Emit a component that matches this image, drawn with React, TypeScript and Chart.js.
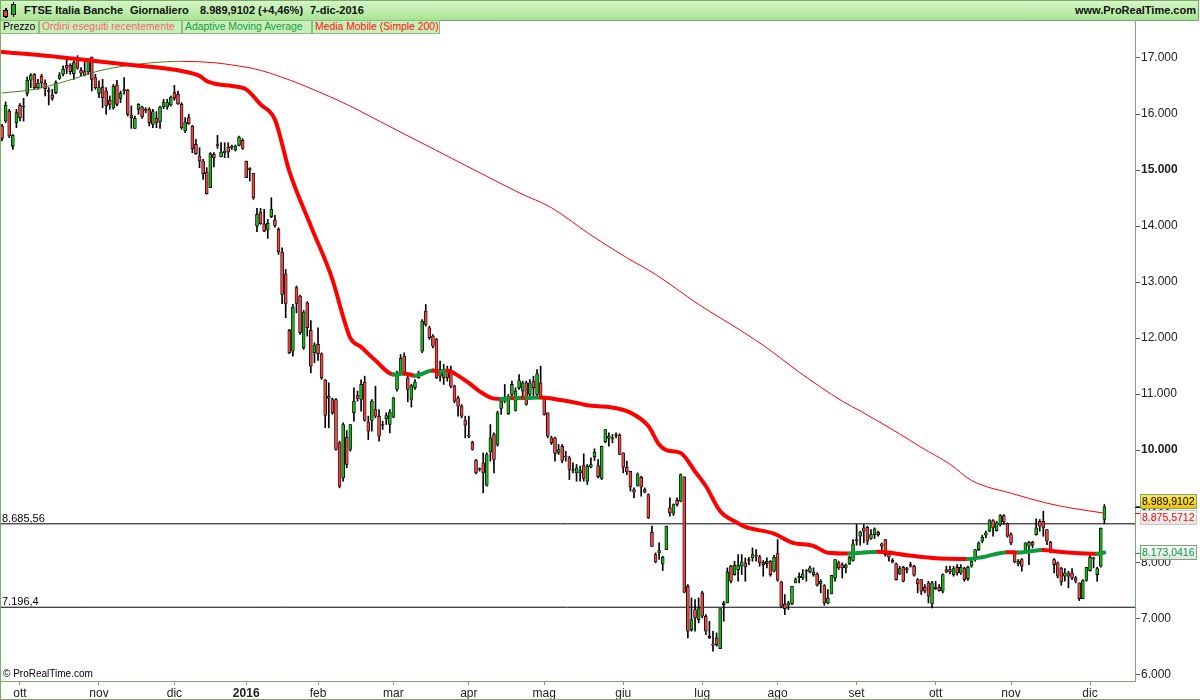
import React, { useEffect, useRef } from "react";
import { Chart, registerables } from "chart.js";

Chart.register(...registerables);

const FONT = '"Liberation Sans", Arial, Helvetica, sans-serif';

// ---- Daily candles (index 0 = 24-set-2015 ... 307 = 7-dic-2016) ----
const opens = [
  15786, 15875, 16054, 15423, 15846, 16155, 16131, 16369, 16602, 16709,
  16471, 16679, 16548, 16417, 16340, 16381, 16637, 16709, 16869, 16869,
  16721, 17006, 16780, 16756, 16750, 17018, 16649, 16369, 16483, 16411,
  16244, 16114, 16518, 16280, 16429, 16423, 15983, 15744, 16084, 16125,
  16084, 16084, 15816, 15923, 15858, 16125, 16125, 16161, 16381, 16352,
  16173, 15697, 15935, 15786, 15459, 15250, 15161, 14965, 14685, 15280,
  15447, 15238, 15304, 15411, 15417, 15357, 15441, 15530, 15161, 15018,
  14941, 14000, 14250, 14042, 13940, 14167, 14107, 13940, 13536, 13149,
  12137, 11768, 12900, 12750, 11827, 12631, 12137, 11738, 11887, 11720,
  11250, 10923, 10905, 10905, 10131, 9506, 10232, 10012, 10667, 10976,
  10905, 11214, 10506, 10530, 10726, 10607, 10452, 10560, 10458, 10589,
  11083, 11381, 11679, 11292, 10905, 11113, 11292, 11768, 12482, 12185,
  12036, 11976, 11440, 11292, 11423, 11423, 11143, 10935, 10786, 10530,
  10256, 10143, 9821, 9670, 9774, 9375, 9970, 10280, 10101, 10744,
  10875, 10649, 10994, 10708, 11113, 11054, 11202, 10994, 11232, 10994,
  11202, 10946, 10667, 10220, 10220, 9952, 10071, 9893, 9863, 9649,
  9595, 9595, 9726, 9446, 9702, 9881, 9726, 9494, 10149, 10208,
  10208, 10262, 10268, 9952, 9696, 9625, 9298, 9369, 9518, 9298,
  9208, 8536, 8137, 8167, 7970, 8226, 8970, 8869, 9107, 9089,
  9524, 7571, 6798, 7155, 6976, 7452, 7036, 6679, 6530, 6649,
  6458, 7244, 7274, 7929, 7780, 7869, 7929, 7988, 8036, 8077,
  8110, 8095, 8000, 7976, 8018, 7839, 8155, 7649, 7256, 7232,
  7256, 7631, 7720, 7720, 7845, 7827, 7821, 7792, 7613, 7583,
  7274, 7435, 7720, 7988, 7958, 7899, 7970, 8030, 8390, 8464,
  8613, 8625, 8423, 8494, 8536, 8327, 8405, 8137, 8036, 7970,
  7792, 7911, 7875, 7958, 7929, 7690, 7690, 7554, 7631, 7256,
  7554, 7554, 7482, 7869, 7869, 7780, 7911, 7810, 7887, 7708,
  7929, 8077, 8226, 8375, 8482, 8554, 8744, 8565, 8673, 8833,
  8685, 8494, 8167, 7970, 8048, 8196, 8286, 8357, 8494, 8732,
  8732, 8583, 8357, 8048, 7988, 7887, 7750, 7810, 7810, 7720,
  7631, 7351, 7673, 7851, 8065, 7780, 7929, 8762,
];
const highs = [
  15816, 16215, 16084, 15637, 16084, 16185, 16280, 16661, 16721, 16721,
  16619, 16709, 16608, 16471, 16441, 16590, 16739, 16858, 17018, 16899,
  16947, 17042, 16828, 16947, 16977, 17018, 16709, 16590, 16619, 16471,
  16322, 16530, 16602, 16411, 16649, 16441, 16143, 15965, 16185, 16143,
  16114, 16114, 16084, 16042, 16143, 16262, 16262, 16322, 16512, 16411,
  16203, 15935, 15994, 15798, 15548, 15399, 15191, 15042, 15310, 15310,
  15619, 15488, 15488, 15488, 15447, 15447, 15608, 15560, 15161, 15042,
  14941, 14315, 14315, 14298, 14119, 14506, 14190, 13970, 13613, 13226,
  12155, 12601, 12930, 12768, 12494, 12649, 12315, 11917, 12185, 11738,
  11262, 11202, 10930, 10920, 10161, 10488, 10351, 10460, 11113, 11054,
  11256, 11321, 10607, 10905, 11143, 10726, 10518, 10667, 10726, 10946,
  11411, 11708, 11738, 11321, 11173, 11262, 11411, 12333, 12601, 12214,
  12065, 11994, 11589, 11530, 11500, 11500, 11161, 10964, 10815, 10607,
  10607, 10160, 9833, 9685, 9952, 9952, 10458, 10310, 10696, 10935,
  11173, 10994, 11232, 11113, 11351, 11232, 11232, 11262, 11321, 11440,
  11500, 10964, 10667, 10250, 10232, 10101, 10101, 9982, 9893, 9774,
  9744, 9714, 9935, 9744, 9863, 10024, 9833, 10071, 10369, 10310,
  10280, 10310, 10292, 9952, 9804, 9625, 9327, 9595, 9536, 9327,
  9220, 8643, 8167, 8345, 8107, 8643, 9149, 9042, 9149, 9577,
  9524, 7601, 7363, 7333, 7363, 7482, 7065, 6946, 6768, 6738,
  7173, 7304, 7899, 7946, 8018, 8137, 8137, 8077, 8089, 8256,
  8226, 8125, 8030, 8077, 8030, 8125, 8405, 7661, 7423, 7304,
  7571, 7720, 7810, 7869, 7869, 7929, 7899, 7810, 7690, 7601,
  7512, 7768, 8048, 8018, 7988, 7970, 8107, 8405, 8673, 8554,
  8673, 8643, 8583, 8613, 8554, 8345, 8405, 8167, 8065, 7988,
  7929, 7929, 7911, 8000, 7946, 7708, 7690, 7601, 7661, 7661,
  7661, 7601, 7792, 7929, 7929, 7929, 7958, 7958, 7911, 7929,
  8048, 8226, 8363, 8482, 8554, 8762, 8762, 8732, 8851, 8851,
  8702, 8524, 8196, 8048, 8065, 8345, 8375, 8375, 8774, 8762,
  8911, 8583, 8375, 8065, 8006, 7911, 7887, 7839, 7887, 7750,
  7631, 7690, 7911, 8125, 8089, 7911, 8613, 9030,
];
const lows = [
  15518, 15846, 15578, 15369, 15756, 15875, 15875, 16322, 16471, 16441,
  16441, 16471, 16322, 16161, 16244, 16363, 16619, 16679, 16721, 16709,
  16619, 16798, 16679, 16679, 16709, 16411, 16441, 16292, 16114, 15994,
  16084, 16084, 16143, 16203, 16352, 15965, 15744, 15744, 15994, 15923,
  16024, 15786, 15756, 15756, 15744, 16096, 16084, 16143, 16244, 16173,
  15727, 15667, 15816, 15310, 15280, 15042, 14834, 14570, 14685, 15054,
  15387, 15232, 15221, 15221, 15369, 15339, 15429, 15369, 14863, 14804,
  14476, 13899, 14030, 13899, 13780, 14149, 13982, 13494, 12613, 12363,
  11720, 11679, 12452, 12065, 11798, 12036, 11381, 11560, 11601, 11262,
  10399, 10399, 10640, 10000, 9327, 9446, 9685, 9982, 10518, 10875,
  10696, 10518, 10190, 10339, 10577, 10161, 10369, 10458, 10310, 10577,
  11054, 11351, 11339, 10863, 10768, 11083, 11280, 11738, 12214, 11976,
  11827, 11280, 11232, 11173, 11232, 11113, 10845, 10607, 10577, 10220,
  10220, 10000, 9577, 9625, 9238, 9357, 9804, 9595, 10071, 10637,
  10845, 10637, 10964, 10696, 11083, 10964, 10804, 10964, 10964, 10964,
  10935, 10625, 10220, 10101, 9804, 9923, 9774, 9804, 9476, 9595,
  9446, 9446, 9446, 9387, 9685, 9815, 9506, 9476, 10131, 10071,
  10131, 10220, 9923, 9595, 9565, 9268, 9149, 9357, 9179, 9238,
  8780, 8280, 7988, 8048, 7851, 8226, 8821, 8833, 9000, 9077,
  7452, 6649, 6768, 6768, 6917, 7006, 6708, 6637, 6411, 6500,
  6458, 6946, 7274, 7631, 7768, 7661, 7780, 7661, 7958, 8018,
  8018, 7929, 7750, 7899, 7750, 7827, 7661, 7185, 7065, 7155,
  7244, 7631, 7631, 7690, 7661, 7810, 7750, 7571, 7452, 7232,
  7256, 7435, 7661, 7869, 7720, 7810, 7958, 8018, 8304, 8304,
  8345, 8315, 8405, 8423, 8464, 8226, 8107, 8018, 7988, 7679,
  7780, 7649, 7810, 7911, 7750, 7452, 7423, 7452, 7274, 7185,
  7512, 7482, 7452, 7810, 7792, 7750, 7768, 7780, 7661, 7673,
  7911, 8018, 8208, 8345, 8435, 8542, 8464, 8554, 8643, 8673,
  8446, 8315, 7988, 7935, 7839, 8185, 7958, 8256, 8482, 8554,
  8464, 8315, 8167, 7810, 7720, 7589, 7661, 7542, 7690, 7631,
  7315, 7351, 7661, 7839, 7899, 7661, 7911, 8685,
];
const closes = [
  15566, 16155, 15608, 15619, 16024, 15935, 16125, 16602, 16697, 16471,
  16554, 16560, 16453, 16405, 16280, 16560, 16697, 16798, 16816, 16756,
  16917, 16816, 16727, 16697, 16935, 16619, 16471, 16471, 16292, 16143,
  16173, 16500, 16173, 16369, 16417, 15994, 15935, 15923, 16173, 15947,
  16066, 15846, 16042, 15846, 16125, 16215, 16203, 16304, 16280, 16185,
  15756, 15858, 15828, 15381, 15292, 15161, 14935, 14578, 15292, 15221,
  15435, 15322, 15339, 15322, 15405, 15429, 15590, 15387, 14863, 15006,
  14506, 14208, 14042, 13911, 14048, 14298, 14012, 13542, 12780, 12619,
  11738, 12554, 12620, 12095, 12464, 12185, 11500, 11875, 11720, 11292,
  10619, 10964, 10667, 10012, 9357, 10458, 9744, 10458, 10875, 10923,
  11173, 10530, 10339, 10875, 10607, 10250, 10440, 10619, 10679, 10935,
  11381, 11637, 11351, 11083, 11155, 11214, 11381, 12304, 12244, 12006,
  11857, 11292, 11321, 11440, 11292, 11143, 10875, 10786, 10607, 10446,
  10250, 10012, 9595, 9660, 9595, 9923, 10220, 9833, 10667, 10875,
  10935, 10964, 11173, 11054, 11244, 11202, 10815, 11202, 11113, 11363,
  10964, 10637, 10250, 10131, 9940, 10012, 9815, 9881, 9655, 9637,
  9685, 9637, 9494, 9714, 9744, 9964, 9524, 10071, 10369, 10250,
  10202, 10280, 9923, 9696, 9613, 9345, 9256, 9577, 9339, 9256,
  8792, 8280, 8006, 8208, 8089, 8643, 8881, 9030, 9030, 9565,
  7464, 6768, 6976, 7006, 7185, 7036, 6768, 6649, 6520, 6530,
  7173, 7274, 7827, 7661, 7946, 7946, 8006, 7917, 8030, 8137,
  8107, 7988, 7958, 8018, 7780, 8089, 7679, 7214, 7173, 7274,
  7571, 7690, 7750, 7792, 7839, 7899, 7780, 7589, 7661, 7274,
  7363, 7768, 8048, 7899, 7899, 7946, 8089, 8327, 8385, 8542,
  8554, 8375, 8494, 8595, 8494, 8286, 8137, 8089, 8000, 7690,
  7887, 7661, 7869, 7929, 7768, 7613, 7482, 7482, 7393, 7631,
  7530, 7494, 7780, 7827, 7827, 7887, 7810, 7911, 7690, 7911,
  8018, 8226, 8345, 8446, 8524, 8744, 8613, 8702, 8833, 8720,
  8464, 8345, 8006, 8018, 7929, 8345, 8357, 8304, 8613, 8643,
  8613, 8375, 8226, 7958, 7750, 7649, 7810, 7750, 7720, 7661,
  7351, 7673, 7911, 8089, 8060, 7887, 8606, 8990,
];

// ---- Month ticks (candle index of the first session of each month) ----
const monthTickIndex = [5, 27, 48, 68, 88, 109, 130, 151, 173, 195, 216, 238, 260, 281, 303];
const monthTickLabels = ["ott", "nov", "dic", "2016", "feb", "mar", "apr", "mag", "giu", "lug", "ago", "set", "ott", "nov", "dic"];
const boldMonthLabels = ["2016"];

// ---- Price axis ticks ----
const priceTicks = [6000, 7000, 8000, 9000, 10000, 11000, 12000, 13000, 14000, 15000, 16000, 17000];
const boldPriceTicks = [10000, 15000];

// ---- Adaptive Moving Average (read at these candle indices) ----
const amaIndex = [0, 13, 26, 36, 50, 55, 57, 60, 64, 68, 72, 76, 80, 86, 92, 95, 97, 100, 104, 109,
  112, 115, 120, 122, 124, 126, 130, 133, 137, 139, 142, 143, 145, 146, 150, 156, 161, 163, 169, 175,
  180, 183, 185, 189, 193, 196, 200, 204, 207, 215, 220, 226, 230, 236, 240, 244, 252, 259, 269, 273,
  280, 283, 290, 293, 298, 305, 307];
const amaValues = [17107, 17036, 16946, 16875, 16768, 16680, 16590, 16530, 16500, 16440, 16170, 15900, 14980, 14000, 13050, 12380, 12000, 11840, 11600, 11350,
  11370, 11330, 11420, 11400, 11420, 11370, 11200, 11050, 10920, 10915, 10930, 10925, 10935, 10930, 10940, 10890, 10830, 10800, 10770, 10670,
  10430, 10100, 10000, 9950, 9620, 9360, 8910, 8730, 8630, 8510, 8350, 8290, 8170, 8155, 8175, 8185, 8125, 8077, 8058, 8090,
  8180, 8175, 8220, 8196, 8167, 8149, 8173];

// ---- Media Mobile Semplice 200 (read at these candle indices) ----
const smaIndex = [0, 9, 18, 27, 36, 46, 50, 59, 64, 72, 94, 105, 139, 144, 153, 164, 174, 182, 194, 206,
  213, 222, 234, 239, 250, 256, 264, 270, 282, 291, 298, 307];
const smaValues = [16375, 16440, 16590, 16770, 16875, 16934, 16940, 16916, 16875, 16780, 16232, 15875, 14756, 14595, 14327, 13839, 13434, 13137, 12602, 12125,
  11827, 11393, 10875, 10700, 10290, 10050, 9750, 9460, 9214, 9054, 8964, 8876];

// ---- Horizontal levels and last values ----
const levelValues = [8685.56, 7196.4];
const levelLabels = ["8.685,56", "7.196,4"];
const lastClose = 8989.9102;
const lastSma = 8875.5712;
const lastAma = 8173.0416;

// ---- layout constants ----
const X_MIN = -0.57;
const X_MAX = 315.53;
const Y_MIN = 5880;
const Y_MAX = 17428;

const UP = "#19b219";
const DOWN = "#ec4343";
const RED = "#ff0000";
const AMA_GREEN = "#0c9a3c";
const OLIVE = "#4f7d1c";
const FRAME = "#7aa96c";

function fmtIt(v: number, dec: number): string {
  const s = v.toFixed(dec);
  const [intPart, frac] = s.split(".");
  const grouped = intPart.replace(/\B(?=(\d{3})+(?!\d))/g, ".");
  return frac ? grouped + "," + frac : grouped;
}

const overlayPlugin = {
  id: "overlay",
  afterDraw(chart: any) {
    const { ctx, chartArea: a } = chart;
    const y = chart.scales.y;
    ctx.save();
    ctx.strokeStyle = FRAME;
    ctx.lineWidth = 1;
    ctx.beginPath();
    ctx.moveTo(0.5, 0);
    ctx.lineTo(0.5, chart.height);
    ctx.moveTo(0, a.bottom + 0.5);
    ctx.lineTo(a.right + 1, a.bottom + 0.5);
    ctx.moveTo(a.right + 0.5, 0);
    ctx.lineTo(a.right + 0.5, a.bottom + 1);
    ctx.moveTo(0, chart.height - 0.5);
    ctx.lineTo(chart.width, chart.height - 0.5);
    ctx.stroke();

    ctx.fillStyle = "#000";
    ctx.textAlign = "left";
    ctx.textBaseline = "alphabetic";
    ctx.font = `11px ${FONT}`;
    levelValues.forEach((v, k) => {
      ctx.fillText(levelLabels[k], 2, Math.round(y.getPixelForValue(v)) - 2);
    });
    ctx.font = `10px ${FONT}`;
    ctx.fillText("© ProRealTime.com", 3, a.bottom - 4);

    const items = [
      { v: lastClose, text: fmtIt(lastClose, 4), bg: ["#ffe866", "#f0c000"], color: "#000", tick: "#000", border: FRAME },
      { v: lastSma, text: fmtIt(lastSma, 4), bg: ["#ffffff", "#e2e2e2"], color: RED, tick: RED, border: "#c8c8c8" },
      { v: lastAma, text: fmtIt(lastAma, 4), bg: ["#ffffff", "#e2e2e2"], color: "#00a040", tick: "#00a040", border: FRAME },
    ];
    const h = 15;
    const centers = items.map((it) => y.getPixelForValue(it.v));
    for (let k = 1; k < centers.length; k++) {
      const gap = centers[k] - centers[k - 1];
      if (gap < h + 1) {
        const push = (h + 1 - gap) / 2;
        centers[k - 1] -= push;
        centers[k] += push;
      }
    }
    const bx = a.right + 5;
    const bw = 57;
    items.forEach((it, k) => {
      const py = Math.round(y.getPixelForValue(it.v)) + 0.5;
      ctx.strokeStyle = it.tick;
      ctx.beginPath();
      ctx.moveTo(a.right, py);
      ctx.lineTo(bx, py);
      ctx.stroke();
      const top = Math.round(centers[k] - h / 2);
      const g = ctx.createLinearGradient(0, top, 0, top + h);
      g.addColorStop(0, it.bg[0]);
      g.addColorStop(1, it.bg[1]);
      ctx.fillStyle = g;
      ctx.fillRect(bx, top, bw, h);
      ctx.strokeStyle = it.border;
      ctx.strokeRect(bx + 0.5, top + 0.5, bw - 1, h - 1);
      ctx.fillStyle = it.color;
      ctx.font = `10.5px ${FONT}`;
      ctx.textBaseline = "middle";
      ctx.fillText(it.text, bx + 2, top + h / 2 + 1);
    });
    ctx.restore();
  },
};

export default function App() {
  const canvasRef = useRef<HTMLCanvasElement | null>(null);

  useEffect(() => {
    const canvas = canvasRef.current;
    if (!canvas) return;
    const idx = closes.map((_, i) => i);
    const wickData = idx.map((i) => ({ x: i, y: [lows[i], highs[i]] }));
    const bodyData = idx.map((i) => ({ x: i, y: [opens[i], closes[i]] }));
    const bodyColors = idx.map((i) => (closes[i] >= opens[i] ? UP : DOWN));
    const amaData = amaIndex.map((x, k) => ({ x, y: amaValues[k] }));
    const smaData = smaIndex.map((x, k) => ({ x, y: smaValues[k] }));

    const chart = new Chart(canvas, {
      type: "bar",
      data: {
        datasets: [
          {
            type: "line",
            label: "Adaptive Moving Average",
            data: amaData,
            borderColor: RED,
            borderWidth: 4,
            pointRadius: 0,
            cubicInterpolationMode: "monotone",
            borderCapStyle: "round",
            borderJoinStyle: "round",
            segment: {
              borderColor: (c: any) => (c.p1.parsed.y > c.p0.parsed.y ? AMA_GREEN : RED),
            },
            order: 0,
          } as any,
          {
            type: "line",
            label: "Media Mobile (Simple 200)",
            data: smaData,
            borderColor: RED,
            borderWidth: 1,
            pointRadius: 0,
            cubicInterpolationMode: "monotone",
            segment: {
              borderColor: (c: any) => (c.p1.parsed.y > c.p0.parsed.y ? OLIVE : RED),
            },
            order: 1,
          } as any,
          {
            type: "bar",
            label: "body",
            data: bodyData,
            backgroundColor: bodyColors,
            borderColor: "#000",
            borderWidth: 0.8,
            borderSkipped: false,
            barThickness: 3,
            minBarLength: 1,
            grouped: false,
            order: 2,
          } as any,
          {
            type: "bar",
            label: "wick",
            data: wickData,
            backgroundColor: "#000",
            borderWidth: 0,
            barThickness: 1,
            grouped: false,
            order: 3,
          } as any,
          ...levelValues.map(
            (lv, k) =>
              ({
                type: "line",
                label: levelLabels[k],
                data: [
                  { x: X_MIN, y: lv },
                  { x: X_MAX, y: lv },
                ],
                borderColor: "#000",
                borderWidth: 1,
                pointRadius: 0,
                order: 4,
              } as any)
          ),
        ],
      },
      options: {
        animation: false,
        responsive: false,
        maintainAspectRatio: false,
        events: [],
        layout: { padding: { top: 14, left: 0, right: 0, bottom: 0 } },
        plugins: {
          legend: { display: false },
          tooltip: { enabled: false },
          title: { display: false },
        },
        scales: {
          x: {
            type: "linear",
            min: X_MIN,
            max: X_MAX,
            offset: false,
            grid: { offset: false, drawOnChartArea: false, drawTicks: true, tickLength: 4, color: FRAME },
            border: { display: false },
            ticks: {
              autoSkip: false,
              maxRotation: 0,
              padding: 1,
              color: "#222",
              font: (c: any) => {
                const k = monthTickIndex.indexOf(c.tick ? c.tick.value : -1);
                const bold = k >= 0 && boldMonthLabels.includes(monthTickLabels[k]);
                return { family: FONT, size: 12, weight: bold ? "bold" : "normal" };
              },
              callback: (_v: any, i: number) => monthTickLabels[i] ?? "",
            },
            afterBuildTicks: (axis: any) => {
              axis.ticks = monthTickIndex.map((v) => ({ value: v }));
            },
            afterFit: (axis: any) => {
              axis.height = 19;
            },
          } as any,
          y: {
            type: "linear",
            position: "right",
            min: Y_MIN,
            max: Y_MAX,
            grid: { drawOnChartArea: false, drawTicks: true, tickLength: 5, color: "#555" },
            border: { display: false },
            ticks: {
              padding: 1,
              color: "#222",
              crossAlign: "near",
              font: (c: any) => ({
                family: FONT,
                size: 12,
                weight: c.tick && boldPriceTicks.includes(c.tick.value) ? "bold" : "normal",
              }),
              callback: (v: any) => fmtIt(Number(v), 0),
            },
            afterBuildTicks: (axis: any) => {
              axis.ticks = priceTicks.map((v) => ({ value: v }));
            },
            afterFit: (axis: any) => {
              axis.width = 65;
            },
          } as any,
        },
      } as any,
      plugins: [overlayPlugin],
    });
    return () => chart.destroy();
  }, []);

  const legendItems = [
    { text: "Prezzo", color: "#000", left: 0, width: 39 },
    { text: "Ordini eseguiti recentemente", color: "#f26a6a", left: 39, width: 143 },
    { text: "Adaptive Moving Average", color: "#10a040", left: 182, width: 130 },
    { text: "Media Mobile (Simple 200)", color: "#ff1010", left: 312, width: 128 },
  ];

  return (
    <div
      style={{
        position: "absolute",
        left: 0,
        top: 0,
        width: 1200,
        height: 700,
        background: "#fff",
        fontFamily: FONT,
        overflow: "hidden",
      }}
    >
      <canvas
        ref={canvasRef}
        width={1200}
        height={680}
        style={{ position: "absolute", left: 0, top: 20, width: 1200, height: 680 }}
      />
      <div
        style={{
          position: "absolute",
          left: 0,
          top: 0,
          width: 1199,
          height: 21,
          boxSizing: "border-box",
          border: `1px solid ${FRAME}`,
          background: "linear-gradient(#d6f7c6, #a8e394)",
          color: "#111",
          fontSize: 11,
          fontWeight: "bold",
          lineHeight: "19px",
        }}
      >
        <div style={{ position: "absolute", left: 4, top: 7, width: 2, height: 10, background: "#000" }} />
        <div style={{ position: "absolute", left: 2, top: 9, width: 5, height: 7, background: DOWN, border: "1px solid #000", boxSizing: "border-box" }} />
        <div style={{ position: "absolute", left: 12, top: 1, width: 1, height: 15, background: "#000" }} />
        <div style={{ position: "absolute", left: 10, top: 3, width: 5, height: 11, background: UP, border: "1px solid #000", boxSizing: "border-box" }} />
        <span style={{ position: "absolute", left: 23, top: 0 }}>FTSE Italia Banche</span>
        <span style={{ position: "absolute", left: 129, top: 0 }}>Giornaliero</span>
        <span style={{ position: "absolute", left: 199, top: 0 }}>8.989,9102 (+4,46%)</span>
        <span style={{ position: "absolute", left: 309, top: 0 }}>7-dic-2016</span>
        <span style={{ position: "absolute", right: 2, top: 0 }}>www.ProRealTime.com</span>
      </div>
      {legendItems.map((it) => (
        <div
          key={it.text}
          style={{
            position: "absolute",
            left: it.left,
            top: 20,
            width: it.width,
            height: 14,
            boxSizing: "border-box",
            border: "1px solid #8dbd7e",
            background: "#c9efb9",
            color: it.color,
            fontSize: 10.4,
            lineHeight: "12px",
            paddingLeft: 2,
            whiteSpace: "nowrap",
            overflow: "hidden",
          }}
        >
          {it.text}
        </div>
      ))}
    </div>
  );
}
